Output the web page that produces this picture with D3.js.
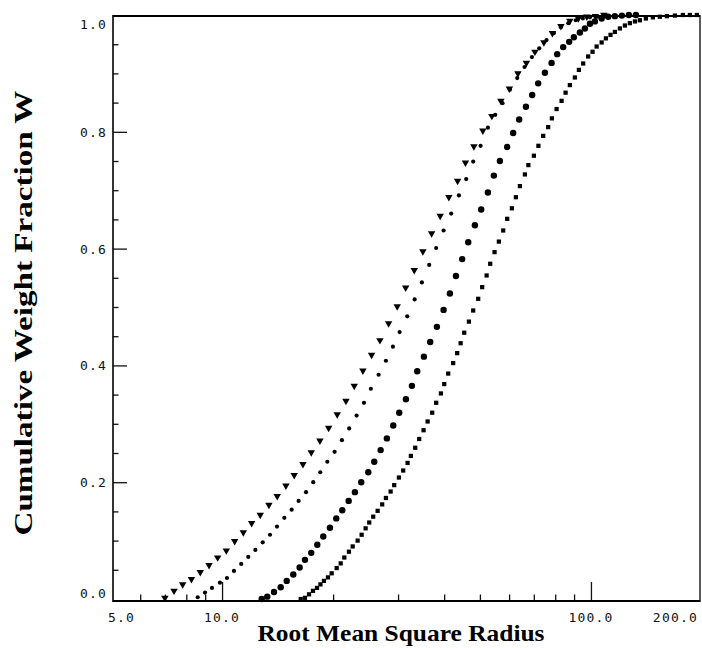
<!DOCTYPE html>
<html>
<head>
<meta charset="utf-8">
<script src="https://cdn.jsdelivr.net/npm/d3@7"></script>
<style>
body { margin: 0; background: #fff; }
svg { display: block; }
.tick text, .xlab { font-family: "DejaVu Sans Mono", monospace; font-size: 13px; letter-spacing: 1.2px; fill: #111; }
.title { font-family: "Liberation Serif", "Times New Roman", serif; font-weight: bold; fill: #000; }
</style>
</head>
<body>
<svg id="chart"></svg>
<script>
let width = 702;
let height = 648;

// series A: triangles
let radiusA = [7.00, 7.41, 7.82, 8.26, 8.73, 9.22, 9.73, 10.27, 10.82, 11.42, 12.03, 12.69, 13.40, 14.11, 14.90, 15.69, 16.57, 17.45, 18.42, 19.45,
  20.52, 21.67, 22.82, 24.09, 25.43, 26.79, 28.28, 29.84, 31.46, 33.19, 35.03, 36.99, 39.02, 41.20, 43.50, 45.68, 48.16, 50.93, 53.88, 57.00,
  60.10, 63.39, 66.84, 70.49, 74.55, 78.61, 82.90, 87.66, 92.46, 97.50, 102.8, 108.4];
let fracA = [0.002, 0.014, 0.025, 0.034, 0.046, 0.058, 0.071, 0.083, 0.099, 0.114, 0.130, 0.144, 0.161, 0.176, 0.194, 0.212, 0.231, 0.251, 0.271, 0.293,
  0.316, 0.339, 0.365, 0.391, 0.418, 0.443, 0.472, 0.501, 0.533, 0.563, 0.595, 0.626, 0.656, 0.688, 0.716, 0.747, 0.775, 0.802, 0.827, 0.853,
  0.874, 0.900, 0.918, 0.937, 0.953, 0.969, 0.981, 0.990, 0.994, 0.997, 0.998, 1.000];

// series B: small dots
let radiusB = [8.59, 8.99, 9.39, 9.87, 10.31, 10.77, 11.27, 11.78, 12.31, 12.89, 13.49, 14.09, 14.75, 15.44, 16.13, 16.89, 17.67, 18.46, 19.29, 20.19,
  21.13, 22.11, 23.16, 24.25, 25.32, 26.57, 27.81, 29.05, 30.29, 31.77, 33.27, 34.81, 36.44, 38.06, 39.86, 41.80, 43.86, 45.90, 47.95, 50.22,
  52.56, 55.02, 57.58, 60.30, 63.11, 66.06, 69.18, 72.41, 75.79, 79.37, 82.90, 86.84, 90.99, 95.10, 99.36, 104.1, 109.1];
let fracB = [0.003, 0.011, 0.019, 0.028, 0.036, 0.048, 0.060, 0.072, 0.084, 0.097, 0.110, 0.124, 0.139, 0.153, 0.168, 0.183, 0.200, 0.217, 0.235, 0.252,
  0.272, 0.292, 0.314, 0.336, 0.360, 0.384, 0.408, 0.432, 0.457, 0.484, 0.513, 0.542, 0.572, 0.601, 0.631, 0.660, 0.691, 0.719, 0.749, 0.776,
  0.807, 0.829, 0.849, 0.872, 0.892, 0.911, 0.928, 0.943, 0.957, 0.969, 0.979, 0.986, 0.991, 0.994, 0.996, 0.997, 0.998];

// series C: large dots
let radiusC = [12.81, 13.26, 13.83, 14.42, 14.97, 15.60, 16.23, 16.78, 17.45, 18.12, 18.81, 19.61, 20.40, 21.18, 22.04, 22.92, 23.84, 24.91, 25.86, 26.91,
  27.98, 29.11, 30.22, 31.51, 32.71, 33.81, 35.25, 36.67, 38.23, 39.86, 41.46, 43.05, 44.77, 46.49, 48.46, 50.40, 52.56, 54.55, 56.64, 59.29,
  61.54, 63.90, 66.64, 69.30, 71.94, 75.02, 78.22, 81.00, 84.08, 87.29, 89.88, 93.31, 96.30, 99.36, 102.5, 106.9, 111.4, 116.1, 121.3, 126.7, 132.4];
let fracC = [0.000, 0.004, 0.012, 0.020, 0.031, 0.042, 0.054, 0.067, 0.079, 0.093, 0.107, 0.122, 0.138, 0.152, 0.168, 0.183, 0.200, 0.217, 0.235, 0.255,
  0.275, 0.297, 0.319, 0.342, 0.365, 0.390, 0.415, 0.440, 0.466, 0.495, 0.523, 0.553, 0.582, 0.611, 0.640, 0.667, 0.696, 0.725, 0.750, 0.774,
  0.798, 0.821, 0.843, 0.863, 0.883, 0.901, 0.918, 0.933, 0.945, 0.954, 0.962, 0.970, 0.977, 0.985, 0.989, 0.994, 0.997, 0.998, 0.999, 1.000, 1.000];

// series D: small squares
let radiusD = [16.34, 16.78, 17.21, 17.64, 18.09, 18.48, 18.89, 19.37, 19.82, 20.45, 20.97, 21.45, 22.08, 22.60, 23.31, 23.90, 24.50, 25.06, 25.69, 26.41,
  27.17, 27.81, 28.64, 29.29, 30.16, 30.98, 31.84, 32.50, 33.39, 34.23, 35.18, 36.08, 37.13, 38.06, 39.20, 40.02, 41.03, 42.32, 43.39, 44.33,
  45.34, 46.69, 47.95, 49.47, 50.72, 52.14, 53.32, 54.79, 56.28, 57.83, 59.29, 61.05, 62.60, 64.18, 66.22, 67.67, 70.04, 72.04, 74.22, 76.57,
  78.35, 80.70, 83.26, 85.36, 87.66, 90.43, 92.74, 95.26, 98.28, 101.0, 103.6, 106.9, 109.8, 113.0, 116.1, 119.8, 123.6, 127.5, 131.6, 135.7,
  140.9, 147.2, 153.7, 160.6, 168.9, 177.5, 185.4, 193.7];
let fracD = [0.000, 0.002, 0.008, 0.014, 0.019, 0.025, 0.031, 0.037, 0.044, 0.053, 0.061, 0.071, 0.081, 0.090, 0.100, 0.110, 0.121, 0.131, 0.141, 0.151,
  0.162, 0.173, 0.184, 0.195, 0.208, 0.220, 0.233, 0.245, 0.259, 0.274, 0.289, 0.304, 0.319, 0.336, 0.352, 0.368, 0.386, 0.404, 0.421, 0.438,
  0.456, 0.475, 0.494, 0.514, 0.534, 0.554, 0.574, 0.594, 0.612, 0.631, 0.651, 0.669, 0.688, 0.707, 0.727, 0.743, 0.759, 0.776, 0.793, 0.808,
  0.823, 0.839, 0.853, 0.867, 0.880, 0.893, 0.906, 0.917, 0.929, 0.937, 0.946, 0.953, 0.960, 0.966, 0.971, 0.977, 0.982, 0.986, 0.989, 0.991,
  0.994, 0.996, 0.997, 0.998, 0.999, 1.000, 1.000, 1.000];

let xTickMajor = [10, 100];
let xTickMinor = [6, 7, 8, 9, 20, 30, 40, 50, 60, 70, 80, 90];
let xTickLabels = [5, 10, 100, 200];
let yTickMajor = [0, 0.2, 0.4, 0.6, 0.8, 1.0];
let yTickMinor = [0.05, 0.1, 0.15, 0.25, 0.3, 0.35, 0.45, 0.5, 0.55, 0.65, 0.7, 0.75, 0.85, 0.9, 0.95];

let frame = {left: 113, right: 700, top: 16, bottom: 601};

let svg = d3.select('#chart').attr('width', width).attr('height', height);

let xScale = d3.scaleLog().domain([5, 200]).range([111, 702]);
let yScale = d3.scaleLinear().domain([0, 1]).range([599, 15]);

function zip(rs, ws) {
    return rs.map((r, i) => ({r: r, w: ws[i]}));
}

// y axis ticks (pointing inward)
let yMajor = svg.append('g')
    .attr('transform', `translate(${frame.left},0)`)
    .call(d3.axisLeft(yScale).tickValues(yTickMajor).tickSize(-14).tickPadding(6).tickFormat(d3.format('.1f')));
svg.append('g')
    .attr('transform', `translate(${frame.left},0)`)
    .call(d3.axisLeft(yScale).tickValues(yTickMinor).tickSize(-5.5).tickFormat(''));
yMajor.selectAll('.tick text')
    .attr('dy', d => d === 0 ? '-0.15em' : (d === 1 ? '1.05em' : '0.35em'));
// end ticks sit on the frame, hide them
yMajor.selectAll('.tick').filter(d => d === 0 || d === 1).select('line').remove();

// x axis ticks
svg.append('g')
    .attr('transform', `translate(0,${frame.bottom})`)
    .call(d3.axisBottom(xScale).tickValues(xTickMinor).tickSize(-6.5).tickFormat(''));
svg.append('g')
    .attr('transform', `translate(0,${frame.bottom})`)
    .call(d3.axisBottom(xScale).tickValues(xTickMajor).tickSize(-19).tickFormat(''));
svg.selectAll('.domain').remove();
svg.selectAll('.tick line').attr('stroke', '#111').attr('stroke-width', 1.3);

svg.selectAll('.xlab')
    .data(xTickLabels)
    .join('text')
    .attr('class', 'xlab')
    .attr('x', d => d === 5 ? xScale(d) - 3 : (d === 200 ? xScale(d) - 4 : xScale(d)))
    .attr('y', 622)
    .attr('text-anchor', d => d === 5 ? 'start' : (d === 200 ? 'end' : 'middle'))
    .text(d => d3.format('.1f')(d));

// frame
svg.append('line').attr('x1', frame.left).attr('x2', frame.right).attr('y1', frame.top).attr('y2', frame.top)
    .attr('stroke', '#000').attr('stroke-width', 2);
svg.append('line').attr('x1', frame.left).attr('x2', frame.right).attr('y1', frame.bottom).attr('y2', frame.bottom)
    .attr('stroke', '#000').attr('stroke-width', 2);
svg.append('line').attr('x1', frame.left).attr('x2', frame.left).attr('y1', frame.top - 1).attr('y2', frame.bottom + 1)
    .attr('stroke', '#000').attr('stroke-width', 1.6);
svg.append('line').attr('x1', frame.right).attr('x2', frame.right).attr('y1', frame.top - 1).attr('y2', frame.bottom + 1)
    .attr('stroke', '#000').attr('stroke-width', 1.3);

// points
let tri = d3.symbol().type(d3.symbolTriangle).size(24);
svg.append('g').selectAll('path')
    .data(zip(radiusA, fracA))
    .join('path')
    .attr('d', tri)
    .attr('transform', d => `translate(${xScale(d.r)},${yScale(d.w)}) rotate(180)`)
    .attr('fill', '#000');

svg.append('g').selectAll('circle')
    .data(zip(radiusB, fracB))
    .join('circle')
    .attr('cx', d => xScale(d.r))
    .attr('cy', d => yScale(d.w))
    .attr('r', 2.1)
    .attr('fill', '#000');

svg.append('g').selectAll('circle')
    .data(zip(radiusC, fracC))
    .join('circle')
    .attr('cx', d => xScale(d.r))
    .attr('cy', d => yScale(d.w))
    .attr('r', 3.2)
    .attr('fill', '#000');

let sq = d3.symbol().type(d3.symbolSquare).size(18);
svg.append('g').selectAll('path')
    .data(zip(radiusD, fracD))
    .join('path')
    .attr('d', sq)
    .attr('transform', d => `translate(${xScale(d.r)},${yScale(d.w)})`)
    .attr('fill', '#000');

// titles
svg.append('text')
    .attr('class', 'title')
    .attr('x', 401)
    .attr('y', 641)
    .attr('text-anchor', 'middle')
    .attr('textLength', 287)
    .attr('lengthAdjust', 'spacingAndGlyphs')
    .style('font-size', '23px')
    .text('Root Mean Square Radius');

svg.append('text')
    .attr('class', 'title')
    .attr('transform', 'translate(32,313) rotate(-90)')
    .attr('text-anchor', 'middle')
    .attr('textLength', 445)
    .attr('lengthAdjust', 'spacingAndGlyphs')
    .style('font-size', '25px')
    .text('Cumulative Weight Fraction W');
</script>
</body>
</html>
